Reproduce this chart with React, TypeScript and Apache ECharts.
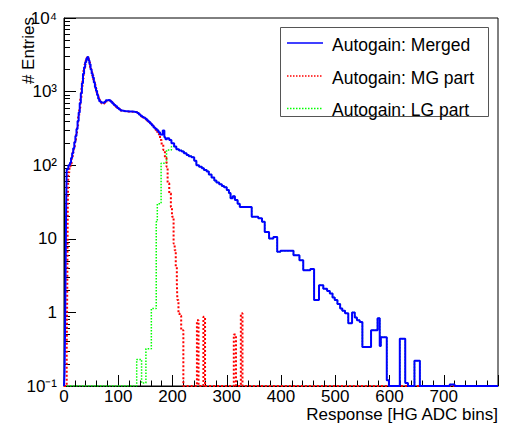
import React, { useEffect, useRef } from 'react';
import * as echarts from 'echarts';

// ---- data (bin low edge, content) ----
const X_MAX = 800;
const FLOOR = 0.1; // empty bins sit on the bottom of the log axis

const xTickLabels = ['0', '100', '200', '300', '400', '500', '600', '700'];
const yTickLabels = ['10⁻¹', '1', '10', '10²', '10³', '10⁴'];

const mergedBins: [number, number][] = [
  [0, 0], [1, 0.15], [2, 0.6], [3, 4], [4, 30], [5, 88], [8, 100], [11, 108], [13, 125], [15, 145],
  [17, 170], [19, 205], [21, 250], [23, 310], [25, 400], [27, 520], [29, 700], [31, 950], [33, 1300],
  [35, 1750], [37, 2150], [39, 2500], [41, 2800], [43, 2950], [45, 2650], [47, 2350], [49, 2000],
  [51, 1750], [53, 1550], [55, 1330], [57, 1150], [59, 1030], [61, 900], [63, 800], [65, 740],
  [68, 710], [71, 700], [74, 720], [77, 760], [80, 770], [83, 760], [86, 730], [89, 690], [92, 660],
  [95, 630], [98, 600], [101, 575], [104, 555], [107, 545], [112, 540], [117, 535], [122, 535],
  [127, 530], [132, 525], [135, 510], [138, 490], [141, 470], [144, 450], [147, 440], [150, 425],
  [153, 405], [156, 385], [159, 365], [162, 345], [165, 325], [168, 312], [171, 298], [174, 280],
  [177, 262], [180, 258], [182, 295], [185, 240], [187, 225], [190, 232], [194, 220], [198, 199],
  [203, 180], [207, 165], [212, 158], [217, 153], [221, 145], [226, 138], [230, 132], [235, 128],
  [240, 115], [244, 100], [249, 95], [254, 91], [258, 86], [263, 82], [267, 75], [272, 68], [277, 62],
  [281, 58], [286, 55], [291, 52], [295, 50], [300, 46], [304, 42], [307, 35.5], [311, 38], [315, 33.6],
  [320, 30], [324, 27], [346, 20], [358, 19], [365, 17], [370, 12.4], [378, 10.1], [386, 10.6],
  [393, 6.65], [399, 6.9], [423, 6.0], [434, 5.13], [441, 3.75], [454, 3.9], [461, 1.47], [470, 2.34],
  [478, 2.1], [485, 1.95], [490, 1.8], [495, 1.6], [499, 1.47], [504, 1.3], [509, 1.13], [513, 1.05],
  [518, 0.97], [524, 0.71], [531, 1.0], [536, 0.85], [540, 0.78], [545, 0.74], [550, 0.34], [566, 0.57],
  [578, 0.83], [582, 0.35], [584, 0.46], [595, 0.12], [599, 0], [619, 0.44], [629, 0.11], [634, 0],
  [646, 0.22], [656, 0], [711, 0.105], [720, 0],
];

const mgBins: [number, number][] = [
  [0, 0], [5, 0.3], [6, 2], [7, 30], [8, 80], [10, 95], [12, 105], [14, 125], [16, 150], [18, 180],
  [20, 220], [22, 275], [24, 345], [26, 450], [28, 600], [30, 820], [32, 1100], [34, 1500], [36, 1950],
  [38, 2350], [40, 2650], [42, 2900], [44, 2850], [46, 2500], [48, 2150], [50, 1850], [52, 1650],
  [54, 1450], [56, 1250], [58, 1100], [60, 970], [62, 860], [64, 780], [66, 720], [69, 690], [72, 690],
  [75, 710], [78, 740], [81, 750], [84, 740], [87, 710], [90, 675], [93, 645], [96, 615], [99, 590],
  [102, 565], [105, 548], [109, 540], [114, 535], [119, 533], [124, 530], [129, 528], [133, 520],
  [136, 500], [139, 480], [142, 460], [145, 445], [148, 432], [151, 415], [154, 395], [157, 375],
  [160, 355], [163, 335], [166, 315], [169, 298], [172, 275], [175, 250], [177, 220], [180, 190],
  [183, 161], [186, 125], [189, 95], [191, 57], [194, 41.5], [197, 27], [199, 20], [202, 8.6], [204, 7],
  [206, 4.2], [208, 2.5], [209, 1.47], [211, 0.97], [213, 0.9], [216, 0.57], [220, 0], [245, 0.78],
  [248, 0], [257, 0.87], [260, 0], [313, 0.5], [317, 0], [326, 0.97], [329, 0],
];

const lgHeadBins: [number, number][] = [
  [0, 0], [134, 0.23], [143, 0.11], [151, 0.32], [161, 1.13], [170, 17], [172, 30], [179, 106],
  [189, 161], [198, 180],
];
const LG_JOIN = 203; // above this the LG part carries the merged histogram

const legendNames = ['Autogain: Merged', 'Autogain: MG part', 'Autogain: LG part'];
const seriesColors = ['#0000ff', '#ff0000', '#00ff00'];

const FONT = 'Liberation Sans, Arial, Helvetica, sans-serif';

function toSeries(bins: [number, number][]) {
  const pts = bins.map(([x, y]) => [x, Math.max(y, FLOOR)]);
  pts.push([X_MAX, pts[pts.length - 1][1]]);
  return pts;
}

const yMinorValues: number[] = [];
for (let e = -1; e < 4; e++) {
  for (let m = 2; m <= 9; m++) yMinorValues.push(m * Math.pow(10, e));
}

function legendGraphic() {
  const rowsY = [43, 76, 108.5];
  const els: any[] = [
    {
      type: 'rect', shape: { x: 280.5, y: 27.5, width: 208, height: 89 },
      style: { fill: '#fff', stroke: '#555', lineWidth: 1 }, z: 100,
    },
  ];
  legendNames.forEach((name, i) => {
    els.push({
      type: 'line', shape: { x1: 287, y1: rowsY[i], x2: 323, y2: rowsY[i] }, z: 101,
      style: {
        stroke: seriesColors[i], lineWidth: 1.5,
        lineDash: i === 0 ? null : [1.5, 1.5],
      },
    });
    els.push({
      type: 'text', x: 332, y: rowsY[i] + 1.5, z: 101,
      style: { text: name, align: 'left', verticalAlign: 'middle', fontSize: 17.5, fontFamily: FONT, fill: '#000' },
    });
  });
  return els;
}

export default function App() {
  const ref = useRef<HTMLDivElement>(null);
  useEffect(() => {
    if (!ref.current) return;
    const chart = echarts.init(ref.current, undefined, { renderer: 'svg' });
    const lgBins = lgHeadBins.concat(mergedBins.filter(([x]) => x >= LG_JOIN));
    const option: any = {
      animation: false,
      textStyle: { fontFamily: FONT },
      grid: { left: 64, right: 12, top: 18, bottom: 38, show: true, borderColor: '#000', borderWidth: 1, backgroundColor: 'transparent' },
      xAxis: {
        type: 'value', min: 0, max: X_MAX, interval: 100,
        axisLine: { show: true, lineStyle: { color: '#000', width: 1 } },
        axisTick: { show: true, inside: true, length: 11, lineStyle: { color: '#000' } },
        minorTick: { show: true, splitNumber: 5, length: 5.5, lineStyle: { color: '#000' } },
        axisLabel: {
          margin: 2, fontSize: 17, color: '#000', fontFamily: FONT,
          formatter: (v: number) => (v >= X_MAX ? '' : xTickLabels[Math.round(v / 100)] ?? ''),
        },
        splitLine: { show: false },
      },
      yAxis: [
        {
          type: 'log', logBase: 10, min: 0.1, max: 10000,
          axisLine: { show: true, lineStyle: { color: '#000', width: 1 } },
          axisTick: { show: true, inside: true, length: 12, lineStyle: { color: '#000' } },
          axisLabel: {
            margin: 7, fontSize: 17, color: '#000', fontFamily: FONT,
            formatter: (v: number) => yTickLabels[Math.round(Math.log10(v)) + 1] ?? '',
          },
          splitLine: { show: false },
        },
        {
          type: 'log', logBase: 10, min: 0.1, max: 10000, position: 'left',
          axisLine: { show: false },
          axisLabel: { show: false },
          axisTick: { show: true, inside: true, length: 6, customValues: yMinorValues, lineStyle: { color: '#000' } },
          splitLine: { show: false },
        },
      ],
      graphic: [
        {
          type: 'text', x: 28, y: 17, rotation: Math.PI / 2,
          style: { text: '# Entries', align: 'right', verticalAlign: 'middle', fontSize: 17, fontFamily: FONT, fill: '#000' },
        },
        {
          type: 'text', x: 498, y: 414,
          style: { text: 'Response [HG ADC bins]', align: 'right', verticalAlign: 'middle', fontSize: 17, fontFamily: FONT, fill: '#000' },
        },
        ...legendGraphic(),
      ],
      series: [
        {
          name: legendNames[2], type: 'line', step: 'end', symbol: 'none', data: toSeries(lgBins),
          lineStyle: { color: seriesColors[2], width: 1.5, type: 'dotted' }, itemStyle: { color: seriesColors[2] },
        },
        {
          name: legendNames[1], type: 'line', step: 'end', symbol: 'none', data: toSeries(mgBins),
          lineStyle: { color: seriesColors[1], width: 2, type: 'dotted' }, itemStyle: { color: seriesColors[1] },
        },
        {
          name: legendNames[0], type: 'line', step: 'end', symbol: 'none', data: toSeries(mergedBins),
          lineStyle: { color: seriesColors[0], width: 2 }, itemStyle: { color: seriesColors[0] },
        },
      ],
    };
    chart.setOption(option);
    return () => chart.dispose();
  }, []);
  return <div ref={ref} style={{ position: 'fixed', left: 0, top: 0, width: 510, height: 424, background: '#fff' }} />;
}
